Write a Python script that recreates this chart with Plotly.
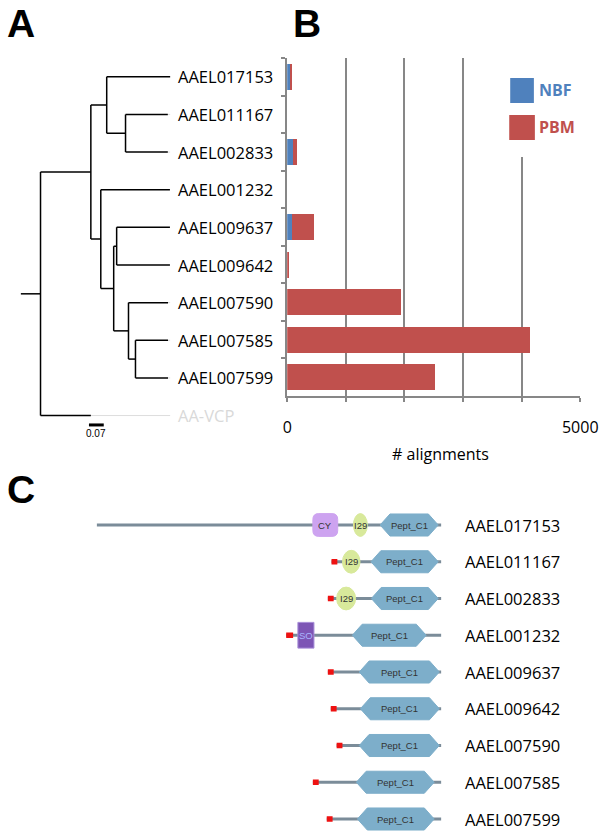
import plotly.graph_objects as go

W, H = 603, 834          # reference picture size (layout coordinates below are in these px)
FIG_W = 618              # figure width that photographs as 603 px in this viewer

# ---------------- DATA ----------------
# Panel A: phylogenetic tree (parent list + branch lengths)
node_names = ["root", "n2", "AA-VCP", "n1", "n3", "AAEL017153", "n1b", "AAEL011167", "AAEL002833",
              "AAEL001232", "n4", "n4a", "AAEL009637", "AAEL009642", "n5", "AAEL007590", "n6",
              "AAEL007585", "AAEL007599"]
node_parent = [None, "root", "root", "n2", "n2", "n1", "n1", "n1b", "n1b",
               "n3", "n3", "n4", "n4a", "n4a", "n4", "n5", "n5", "n6", "n6"]
branch_len = [0.0, 0.238, 0.238, 0.075, 0.047, 0.300, 0.089, 0.200, 0.200,
              0.327, 0.061, 0.014, 0.252, 0.252, 0.070, 0.187, 0.033, 0.154, 0.154]
tip_order = ["AAEL017153", "AAEL011167", "AAEL002833", "AAEL001232", "AAEL009637",
             "AAEL009642", "AAEL007590", "AAEL007585", "AAEL007599", "AA-VCP"]
root_stub = 0.093
scale_bar_len = 0.07
scale_bar_label = "0.07"

# Panel B: number of alignments
genes = ["AAEL017153", "AAEL011167", "AAEL002833", "AAEL001232", "AAEL009637",
         "AAEL009642", "AAEL007590", "AAEL007585", "AAEL007599"]
nbf = [65, 0, 95, 0, 75, 0, 0, 0, 0]
pbm = [25, 0, 80, 0, 385, 22, 1950, 4140, 2520]
x_tickvals = [0, 1000, 2000, 3000, 4000, 5000]
x_ticktext = ["0", "", "", "", "", "5000"]

# Panel C: domain architecture (amino-acid positions)
prot_length = [942, 300, 310, 424, 310, 302, 286, 351, 313]
signal_end = [0, 16, 16, 19, 16, 16, 16, 16, 16]
pept_start = [775, 108, 119, 181, 86, 81, 62, 119, 84]
pept_end = [934, 292, 302, 383, 305, 297, 281, 332, 294]
other_domains = [(0, "CY", 591, 659), (0, "I29", 702, 740), (1, "I29", 30, 78),
                 (2, "I29", 24, 76), (3, "SO", 32, 76)]

# ---------------- STYLE ----------------
BLUE = "#4F81BD"
RED = "#C0504D"
GRID = "#878787"
FONT = "Open Sans"

def pxx(x):
    return x / W

def pyy(y):
    return 1 - y / H

fig = go.Figure()

# ---------------- Panel A: tree ----------------
xpos = {}
for n, p, b in zip(node_names, node_parent, branch_len):
    xpos[n] = 0.0 if p is None else xpos[p] + b
children = {n: [] for n in node_names}
for n, p in zip(node_names, node_parent):
    if p is not None:
        children[p].append(n)
ypos = {t: i for i, t in enumerate(tip_order)}

def gety(n):
    if n in ypos:
        return ypos[n]
    ys = [gety(c) for c in children[n]]
    ypos[n] = (min(ys) + max(ys)) / 2
    return ypos[n]

gety("root")
tx, ty = [], []
for n, p in zip(node_names, node_parent):
    if p is not None:
        tx += [xpos[p], xpos[n], None]
        ty += [ypos[n], ypos[n], None]
    if children[n]:
        cy = [ypos[c] for c in children[n]]
        tx += [xpos[n], xpos[n], None]
        ty += [min(cy), max(cy), None]
tx += [-root_stub, 0, None]
ty += [ypos["root"], ypos["root"], None]

align_x = max(xpos[t] for t in tip_order)
lx, ly = [], []
for t in tip_order:
    if align_x - xpos[t] > 0.01:
        lx += [xpos[t], align_x, None]
        ly += [ypos[t], ypos[t], None]

fig.add_trace(go.Scatter(x=lx, y=ly, mode="lines", line=dict(color="#DDDDDD", width=1),
                         xaxis="x", yaxis="y", showlegend=False, hoverinfo="skip"))
fig.add_trace(go.Scatter(x=tx, y=ty, mode="lines", line=dict(color="black", width=1.5),
                         xaxis="x", yaxis="y", showlegend=False, hoverinfo="skip"))

for t in tip_order:
    fig.add_annotation(x=align_x + 0.03, y=ypos[t], xref="x", yref="y", text=t,
                       showarrow=False, xanchor="left", yanchor="middle",
                       font=dict(family=FONT, size=16.5,
                                 color="#D9D9D9" if t == "AA-VCP" else "black"))

# scale bar
sb_x0 = 0.229
sb_y = 9.25
fig.add_trace(go.Scatter(x=[sb_x0, sb_x0 + scale_bar_len], y=[sb_y, sb_y], mode="lines",
                         line=dict(color="black", width=3), xaxis="x", yaxis="y",
                         showlegend=False, hoverinfo="skip"))
fig.add_annotation(x=sb_x0 + scale_bar_len / 2, y=sb_y + 0.22, xref="x", yref="y",
                   text=scale_bar_label, showarrow=False, xanchor="center", yanchor="middle",
                   font=dict(family="Liberation Sans", size=10, color="black"))

# ---------------- Panel B: bars ----------------
fig.add_trace(go.Bar(y=genes, x=nbf, orientation="h", name="NBF", marker_color=BLUE,
                     marker_line_width=0, xaxis="x2", yaxis="y2", showlegend=False))
fig.add_trace(go.Bar(y=genes, x=pbm, orientation="h", name="PBM", marker_color=RED,
                     marker_line_width=0, xaxis="x2", yaxis="y2", showlegend=False))

# ---------------- Panel C: domains ----------------
shapes = []
C_LINE = "#7B8C99"
for i, L in enumerate(prot_length):
    shapes.append(dict(type="line", xref="x3", yref="y3", x0=-L, x1=0, y0=i, y1=i,
                       line=dict(color=C_LINE, width=3), layer="above"))
tip = 27
hh = 0.30
for i, L in enumerate(prot_length):
    s, e = pept_start[i] - L, pept_end[i] - L
    path = (f"M {s},{i} L {s+tip},{i-hh} L {e-tip},{i-hh} L {e},{i} "
            f"L {e-tip},{i+hh} L {s+tip},{i+hh} Z")
    shapes.append(dict(type="path", xref="x3", yref="y3", path=path,
                       fillcolor="#7DAECA", line=dict(color="#7DAECA", width=1), layer="above"))
    fig.add_annotation(x=(s + e) / 2, y=i, xref="x3", yref="y3", text="Pept_C1",
                       showarrow=False, xanchor="center", yanchor="middle",
                       font=dict(family="Liberation Sans", size=9.5, color="#333333"))
    if signal_end[i] > 0:
        shapes.append(dict(type="rect", xref="x3", yref="y3", x0=-L, x1=-L + signal_end[i],
                           y0=i - 0.075, y1=i + 0.075, fillcolor="#EE1111",
                           line=dict(width=0), layer="above"))

for (row, name, s0, e0) in other_domains:
    L = prot_length[row]
    s, e = s0 - L, e0 - L
    if name == "I29":
        shapes.append(dict(type="circle", xref="x3", yref="y3", x0=s, x1=e, y0=row - 0.31,
                           y1=row + 0.31, fillcolor="#D8E99B", line=dict(color="#D8E99B", width=1),
                           layer="above"))
        col = "#333333"
    elif name == "CY":
        rx, ry, h = 16, 0.16, 0.31
        y0, y1 = row - h, row + h
        path = (f"M {s+rx},{y0} L {e-rx},{y0} Q {e},{y0} {e},{y0+ry} L {e},{y1-ry} "
                f"Q {e},{y1} {e-rx},{y1} L {s+rx},{y1} Q {s},{y1} {s},{y1-ry} "
                f"L {s},{y0+ry} Q {s},{y0} {s+rx},{y0} Z")
        shapes.append(dict(type="path", xref="x3", yref="y3", path=path, fillcolor="#CDA3F0",
                           line=dict(color="#CDA3F0", width=1), layer="above"))
        col = "#333333"
    else:
        shapes.append(dict(type="rect", xref="x3", yref="y3", x0=s, x1=e, y0=row - 0.35,
                           y1=row + 0.35, fillcolor="#7D55B5", line=dict(color="#A88FD8", width=1),
                           layer="above"))
        col = "#A9B4FF"
    fig.add_annotation(x=(s + e) / 2, y=row, xref="x3", yref="y3", text=name, showarrow=False,
                       xanchor="center", yanchor="middle",
                       font=dict(family="Liberation Sans", size=9.5, color=col))

for i, g in enumerate(genes):
    fig.add_annotation(x=59, y=i, xref="x3", yref="y3", text=g, showarrow=False,
                       xanchor="left", yanchor="middle",
                       font=dict(family=FONT, size=16.5, color="black"))

# ---------------- Legend (custom), masks, panel letters ----------------
shapes.append(dict(type="rect", xref="paper", yref="paper", x0=pxx(503), x1=pxx(603),
                   y0=pyy(157), y1=pyy(56), fillcolor="white", line=dict(width=0), layer="above"))
shapes.append(dict(type="rect", xref="paper", yref="paper", x0=pxx(512), x1=pxx(536),
                   y0=pyy(103), y1=pyy(78), fillcolor=BLUE, line=dict(width=0), layer="above"))
shapes.append(dict(type="rect", xref="paper", yref="paper", x0=pxx(511), x1=pxx(537),
                   y0=pyy(140), y1=pyy(115), fillcolor=RED, line=dict(width=0), layer="above"))
fig.add_annotation(x=pxx(539), y=pyy(90), xref="paper", yref="paper", text="<b>NBF</b>",
                   showarrow=False, xanchor="left", yanchor="middle",
                   font=dict(family=FONT, size=16, color=BLUE))
fig.add_annotation(x=pxx(539), y=pyy(127), xref="paper", yref="paper", text="<b>PBM</b>",
                   showarrow=False, xanchor="left", yanchor="middle",
                   font=dict(family=FONT, size=16, color=RED))

fig.add_annotation(x=pxx(441), y=pyy(454), xref="paper", yref="paper", text="# alignments",
                   showarrow=False, xanchor="center", yanchor="middle",
                   font=dict(family=FONT, size=16, color="black"))

for letter, x, y in [("A", 0, 23), ("B", 290, 23), ("C", 0, 489)]:
    fig.add_annotation(x=pxx(x), y=pyy(y), xref="paper", yref="paper", text=f"<b>{letter}</b>",
                       showarrow=False, xanchor="left", yanchor="middle",
                       font=dict(family="Liberation Sans", size=39, color="black"))

# ---------------- Layout ----------------
U = 214.3  # reference px per tree unit
fig.update_layout(
    width=FIG_W, height=H, autosize=False, margin=dict(l=0, r=0, t=0, b=0, pad=0),
    paper_bgcolor="white", plot_bgcolor="white",
    barmode="stack", bargap=0.31, showlegend=False,
    shapes=shapes,
    xaxis=dict(domain=[0, pxx(280)], range=[-36 / U, (280 - 36) / U], visible=False),
    yaxis=dict(domain=[pyy(472), pyy(58)], range=[10.5, -0.5], visible=False),
    xaxis2=dict(domain=[pxx(286), pxx(583)], range=[0, 5000], anchor="y2",
                tickvals=x_tickvals, ticktext=x_ticktext, showgrid=True, gridcolor=GRID,
                gridwidth=2, showline=True, linecolor=GRID, linewidth=2, ticks="outside",
                ticklen=4, tickwidth=2, tickcolor=GRID, zeroline=False,
                tickfont=dict(family=FONT, size=16, color="black"), ticklabelstandoff=12),
    yaxis2=dict(domain=[pyy(396), pyy(58)], anchor="x2", type="category",
                categoryorder="array", categoryarray=genes, autorange="reversed",
                showticklabels=False, showgrid=False, showline=True, linecolor=GRID, linewidth=2,
                ticks="outside", tickson="boundaries", ticklen=4, tickwidth=2, tickcolor=GRID,
                zeroline=False),
    xaxis3=dict(domain=[0, 1], range=[-442 * 2.7, 161 * 2.7], anchor="y3", visible=False),
    yaxis3=dict(domain=[0, pyy(490)], range=[(834 - 525) / 36.75, -(525 - 490) / 36.75],
                anchor="x3", visible=False),
)

post = ("document.documentElement.style.overflow='hidden';"
        "document.body.style.margin='0';document.body.style.overflow='hidden';")
fig.write_html("out.html", config={"displayModeBar": False}, post_script=post)
